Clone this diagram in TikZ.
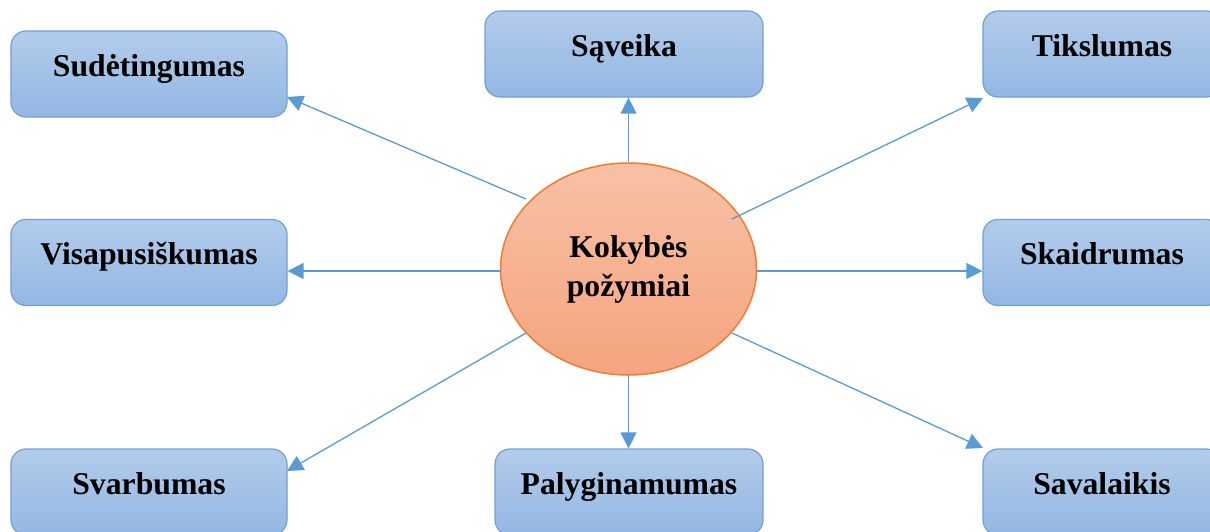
\documentclass[tikz,border=0pt]{standalone}
\usepackage{fontspec}
\setmainfont{Liberation Serif}
\usetikzlibrary{arrows.meta,shapes.geometric}
\definecolor{boxtop}{HTML}{B2CCEB}
\definecolor{boxbot}{HTML}{93B7E3}
\definecolor{boxline}{HTML}{6FA0D6}
\definecolor{elltop}{HTML}{F7C1A5}
\definecolor{ellbot}{HTML}{F5A47F}
\definecolor{ellline}{HTML}{ED7D31}
\definecolor{arrowc}{HTML}{5B9BD5}
\begin{document}
\begin{tikzpicture}[x=1pt,y=-1pt,
  box/.style={rectangle,rounded corners=15pt,draw=boxline,line width=1.2pt,
    top color=boxtop,bottom color=boxbot,minimum height=86pt,inner sep=0pt,
    font=\fontsize{31.7}{38}\bfseries\selectfont,text height=22pt,text depth=18pt},
  conn/.style={draw=arrowc,line width=1.3pt,-{Triangle[length=16pt,width=16pt]}}]
\clip (0,0) rectangle (1210,531);
\fill[white] (0,0) rectangle (1210,531);
\node[box,minimum width=276pt] (sud) at (149,74) {Sudėtingumas};
\node[box,minimum width=278pt] (sav) at (624,54) {Sąveika};
\node[box,minimum width=238pt] (tik) at (1102,54) {Tikslumas};
\node[box,minimum width=276pt] (vis) at (149,262.5) {Visapusiškumas};
\node[box,minimum width=238pt] (ska) at (1102,262.5) {Skaidrumas};
\node[box,minimum width=276pt] (sva) at (149,492) {Svarbumas};
\node[box,minimum width=268pt] (pal) at (629,492) {Palyginamumas};
\node[box,minimum width=238pt] (sal) at (1102,492) {Savalaikis};
\node[ellipse,draw=ellline,line width=1.5pt,top color=elltop,bottom color=ellbot,
  minimum width=256pt,minimum height=212pt,inner sep=0pt,align=center,
  font=\fontsize{31.7}{39}\bfseries\selectfont] (ell) at (628.5,269) {Kokybės\\požymiai};
\coordinate (s1) at (526,199);
\coordinate (t1) at (287,97);
\coordinate (s2) at (732,219);
\coordinate (t2) at (983,98);
\coordinate (s3) at (526,333);
\coordinate (t3) at (287,471);
\coordinate (s4) at (732,333);
\coordinate (t4) at (983,448);
\draw[conn] (s1) -- (t1);
\draw[conn] (s2) -- (t2);
\draw[conn] (s3) -- (t3);
\draw[conn] (s4) -- (t4);
\draw[conn] (ell.north) -- (ell.north |- sav.south);
\draw[conn] (ell.south) -- (ell.south |- pal.north);
\draw[conn] ([yshift=-2pt]ell.west) -- ([yshift=-2pt]ell.west -| vis.east);
\draw[conn] ([yshift=-2pt]ell.east) -- ([yshift=-2pt]ell.east -| ska.west);
\end{tikzpicture}
\end{document}
